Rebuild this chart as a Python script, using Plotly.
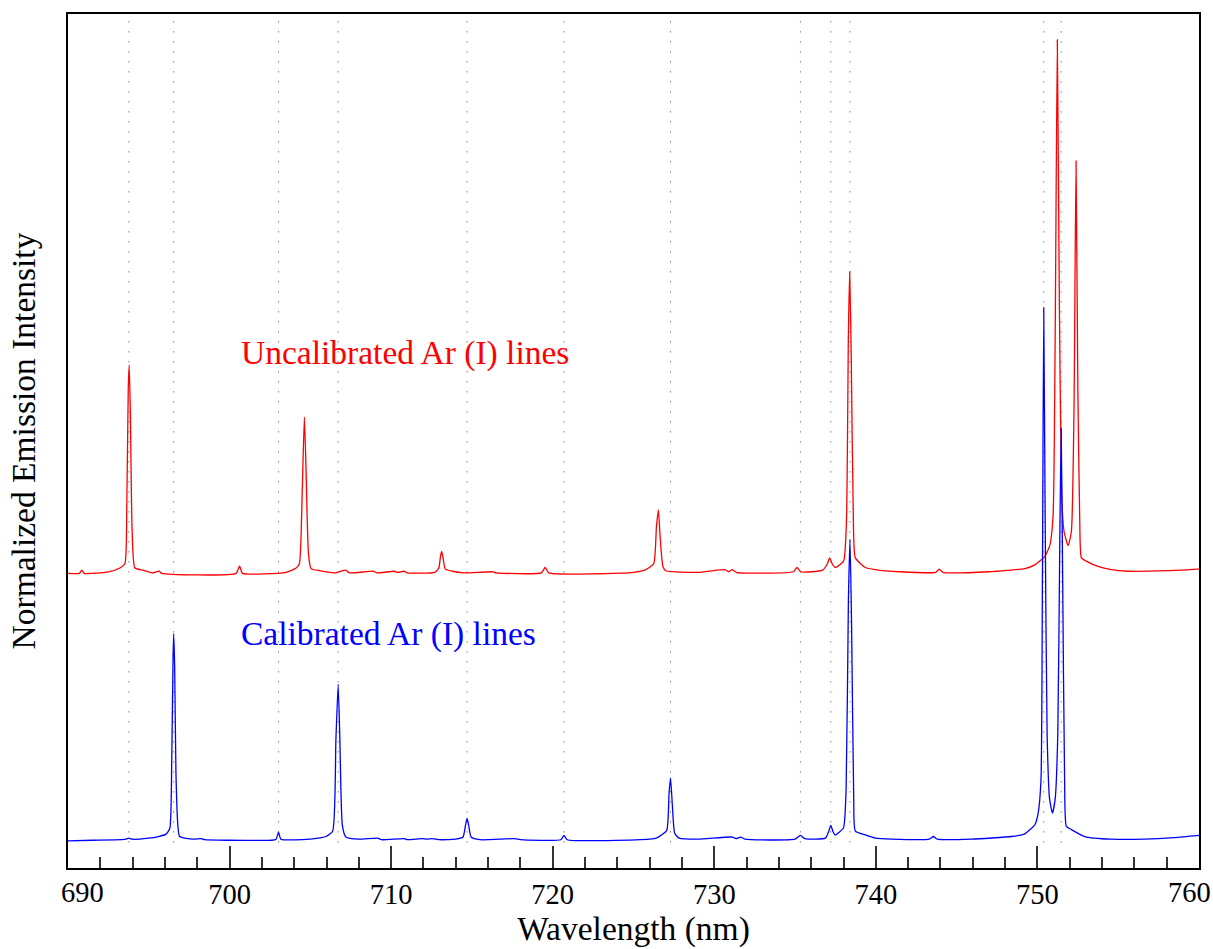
import plotly.graph_objects as go

# ---------------- data ----------------
# Calibrated spectrum (blue): wavelength (nm) and normalized intensity
cal_wl = [690.0, 691.5, 693.3, 693.6, 693.77, 693.95, 695.0, 695.6, 696.05, 696.3, 696.42, 696.5,
          696.54, 696.6, 696.68, 696.8, 696.91, 697.74, 698.25, 698.45, 700.0, 702.6, 702.88,
          703.03, 703.18, 704.5, 705.5, 705.97, 706.38, 706.58, 706.72, 706.82, 706.98, 707.2,
          708.0, 709.16, 709.4, 710.8, 711.0, 711.94, 712.2, 712.56, 713.0, 714.0, 714.45, 714.6,
          714.7, 714.8, 714.95, 715.5, 717.64, 718.0, 720.5, 720.7, 720.9, 726.0, 726.48, 727.05,
          727.2, 727.29, 727.4, 727.55, 727.82, 729.0, 731.11, 731.35, 731.63, 731.9, 735.0,
          735.33, 735.6, 736.88, 737.1, 737.21, 737.35, 737.48, 737.99, 738.16, 738.3, 738.4,
          738.5, 738.63, 738.73, 739.35, 739.96, 741.0, 743.3, 743.56, 743.8, 745.93, 748.4,
          749.22, 749.84, 750.04, 750.22, 750.31, 750.39, 750.48, 750.6, 750.75, 750.93, 751.1,
          751.26, 751.38, 751.47, 751.56, 751.68, 751.79, 752.1, 752.93, 754.57, 756.63, 758.5,
          760.0]
cal_int = [0.001, 0.002, 0.003, 0.004, 0.006, 0.004, 0.006, 0.009, 0.013, 0.024, 0.15, 0.34,
           0.389, 0.33, 0.13, 0.03, 0.009, 0.004, 0.005, 0.003, 0.002, 0.002, 0.004,
           0.017, 0.004, 0.003, 0.006, 0.009, 0.019, 0.19, 0.294, 0.2, 0.03, 0.008,
           0.004, 0.006, 0.003, 0.005, 0.003, 0.005, 0.004, 0.005, 0.003, 0.004, 0.008, 0.03,
           0.043, 0.03, 0.008, 0.003, 0.005, 0.003, 0.003, 0.011, 0.003, 0.004, 0.007, 0.02,
           0.09, 0.119, 0.07, 0.015, 0.006, 0.004, 0.008, 0.005, 0.008, 0.004, 0.004,
           0.011, 0.005, 0.006, 0.02, 0.03, 0.018, 0.012, 0.025, 0.1, 0.45, 0.566,
           0.4, 0.08, 0.019, 0.012, 0.006, 0.004, 0.004, 0.009, 0.004, 0.004, 0.009,
           0.014, 0.031, 0.052, 0.115, 0.5, 1.0, 0.6, 0.2, 0.08, 0.053, 0.08,
           0.2, 0.55, 0.774, 0.5, 0.12, 0.028, 0.022, 0.009, 0.004, 0.004, 0.007,
           0.011]

# Uncalibrated spectrum (red): wavelength (nm) and normalized intensity
unc_wl = [690.0, 690.7, 690.85, 691.0, 692.5, 693.21, 693.52, 693.64, 693.73, 693.79, 693.86,
          693.97, 694.14, 694.65, 695.2, 695.64, 695.8, 700.4, 700.62, 700.8, 703.5, 704.12,
          704.32, 704.5, 704.63, 704.73, 704.88, 705.04, 705.56, 706.5, 707.2, 707.4, 708.89,
          709.1, 710.19, 710.4, 710.8, 711.0, 712.7, 712.95, 713.06, 713.13, 713.22, 713.35,
          713.79, 714.5, 716.3, 716.5, 719.3, 719.53, 719.75, 725.0, 725.77, 726.25, 726.42,
          726.54, 726.65, 726.82, 727.0, 729.0, 730.66, 730.88, 731.11, 731.35, 734.9, 735.12,
          735.35, 736.7, 737.0, 737.14, 737.3, 737.49, 738.0, 738.18, 738.3, 738.38, 738.48,
          738.62, 738.73, 739.35, 739.96, 741.5, 743.7, 743.93, 744.15, 747.0, 749.22, 749.84,
          750.46, 750.77, 750.97, 751.1, 751.23, 751.36, 751.5, 751.65, 751.9, 752.1, 752.26,
          752.39, 752.5, 752.62, 752.72, 753.02, 753.75, 754.57, 755.6, 758.0, 760.0]
unc_int = [0.002, 0.002, 0.008, 0.002, 0.005, 0.012, 0.02, 0.13, 0.35, 0.392, 0.3,
           0.08, 0.012, 0.008, 0.003, 0.006, 0.002, 0.002, 0.016, 0.002, 0.004, 0.012,
           0.02, 0.16, 0.295, 0.2, 0.04, 0.011, 0.007, 0.003, 0.008, 0.003, 0.006,
           0.003, 0.006, 0.004, 0.006, 0.003, 0.004, 0.012, 0.035, 0.043, 0.03, 0.01,
           0.006, 0.003, 0.005, 0.003, 0.003, 0.013, 0.003, 0.004, 0.009, 0.02, 0.09,
           0.121, 0.07, 0.015, 0.007, 0.004, 0.009, 0.005, 0.009, 0.004, 0.005, 0.013,
           0.005, 0.008, 0.02, 0.031, 0.02, 0.013, 0.025, 0.1, 0.45, 0.567, 0.4,
           0.08, 0.031, 0.013, 0.009, 0.005, 0.004, 0.01, 0.004, 0.005, 0.011, 0.018,
           0.034, 0.055, 0.111, 0.45, 1.002, 0.5, 0.15, 0.08, 0.054, 0.08, 0.3,
           0.775, 0.35, 0.1, 0.031, 0.025, 0.015, 0.009, 0.006, 0.007, 0.01]

unc_offset = 0.5  # vertical offset of the uncalibrated trace

# Reference Ar (I) line positions (nm), drawn as dotted guides
ar_lines = [693.77, 696.54, 703.03, 706.72, 714.70, 720.70, 727.29, 735.33, 737.21,
            738.40, 750.39, 751.47]

x_ticks = [700, 710, 720, 730, 740, 750]
x_tick_labels = ["700", "710", "720", "730", "740", "750"]
edge_ticks = [690, 760]
edge_labels = ["690", "760"]

FONT = "Liberation Serif, Times New Roman, serif"

fig = go.Figure()

for wl in ar_lines:
    fig.add_shape(type="line", xref="x", yref="y", x0=wl, x1=wl, y0=-0.002, y1=1.54,
                  line=dict(color="#444444", width=1, dash="1px,9px"), layer="below")

fig.add_trace(go.Scatter(x=unc_wl, y=[v + unc_offset for v in unc_int], mode="lines",
                         line=dict(color="#ff0000", width=1.3, shape="spline", smoothing=0.5),
                         showlegend=False, name="Uncalibrated"))
fig.add_trace(go.Scatter(x=cal_wl, y=cal_int, mode="lines",
                         line=dict(color="#0000ff", width=1.3, shape="spline", smoothing=0.5),
                         showlegend=False, name="Calibrated"))

fig.add_annotation(x=700.6, y=0.915, xref="x", yref="y", text="Uncalibrated Ar (I) lines",
                   showarrow=False, xanchor="left", yanchor="middle",
                   font=dict(family=FONT, size=33.5, color="#ff0000"))
fig.add_annotation(x=700.6, y=0.389, xref="x", yref="y", text="Calibrated Ar (I) lines",
                   showarrow=False, xanchor="left", yanchor="middle",
                   font=dict(family=FONT, size=33.5, color="#0000ff"))

for val, lab, shift in zip(edge_ticks, edge_labels, [14, -10]):
    fig.add_annotation(x=val, y=0, xref="x", yref="paper", text=lab, showarrow=False,
                       xanchor="center", yanchor="top", xshift=shift, yshift=-7,
                       font=dict(family=FONT, size=28.5, color="black"))

fig.update_xaxes(range=[690, 760], showline=True, linewidth=2, linecolor="black", mirror=True,
                 ticks="inside", ticklen=22, tickwidth=1.5, tickcolor="#333333",
                 tickvals=[690, 700, 710, 720, 730, 740, 750, 760],
                 ticktext=[""] + x_tick_labels + [""],
                 minor=dict(dtick=2, tick0=690, ticks="inside", ticklen=11, tickwidth=1.5,
                            tickcolor="#333333", showgrid=False),
                 showgrid=False, zeroline=False,
                 tickfont=dict(family=FONT, size=28.5, color="black"),
                 title=dict(text="Wavelength (nm)", font=dict(family=FONT, size=33.5, color="black"),
                            standoff=3))
fig.update_yaxes(range=[-0.05, 1.55], showline=True, linewidth=2, linecolor="black", mirror=True,
                 showticklabels=False, ticks="", showgrid=False, zeroline=False,
                 title=dict(text="Normalized Emission Intensity",
                            font=dict(family=FONT, size=33.5, color="black"), standoff=20))

fig.update_layout(width=1213, height=949, margin=dict(l=68, r=12, t=12, b=77),
                  paper_bgcolor="white", plot_bgcolor="white", showlegend=False)

fig.write_html("out.html")
